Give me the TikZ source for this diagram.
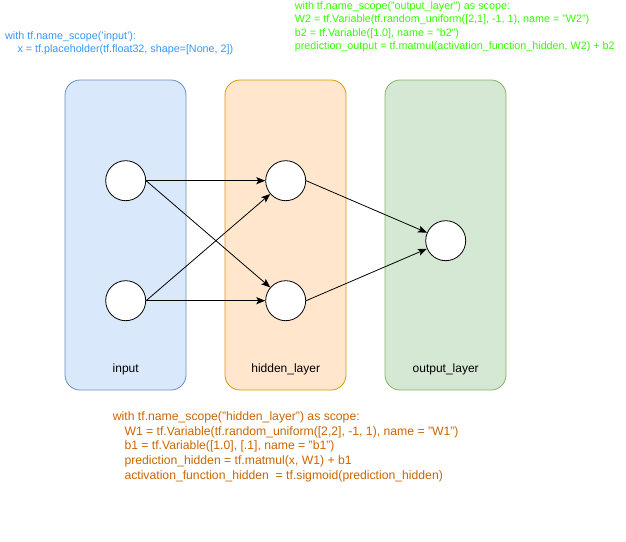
\documentclass[tikz,border=0pt]{standalone}
\usepackage{fontspec}
\setmainfont{Liberation Sans}
\usetikzlibrary{arrows.meta}
\definecolor{inFill}{HTML}{DAE8FC}
\definecolor{inLine}{HTML}{6C8EBF}
\definecolor{hidFill}{HTML}{FFE6CC}
\definecolor{hidLine}{HTML}{D79B00}
\definecolor{outFill}{HTML}{D5E8D4}
\definecolor{outLine}{HTML}{82B366}
\definecolor{codeBlue}{HTML}{3399FF}
\definecolor{codeGreen}{HTML}{33FF00}
\definecolor{codeOrange}{HTML}{CC6600}
\tikzset{
  layerbox/.style={rounded corners=15pt, line width=0.8pt},
  neuron/.style={circle, draw=black, fill=white, line width=0.8pt, minimum size=40pt, inner sep=0pt},
  layerlabel/.style={anchor=base, font=\fontsize{12}{14}\selectfont, inner sep=0pt},
  codeline/.style={anchor=base west, inner sep=0pt},
  link/.style={line width=0.8pt, -{Stealth[length=9pt,width=7pt,inset=2pt]}}
}
\begin{document}
\begin{tikzpicture}[x=1pt,y=-1pt]
\useasboundingbox[fill=white] (0,0) rectangle (626,541);

% layer containers
\filldraw[layerbox, fill=inFill, draw=inLine]   (65,80) rectangle (186,390);
\filldraw[layerbox, fill=hidFill, draw=hidLine] (225,80) rectangle (346,390);
\filldraw[layerbox, fill=outFill, draw=outLine] (385,80) rectangle (506,390);

\node[layerlabel] (lin)  at (125.7,372.5) {input};
\node[layerlabel] (lhid) at (285.7,372.5) {hidden\_layer};
\node[layerlabel] (lout) at (445.7,372.5) {output\_layer};

% neurons
\node[neuron] (i1) at (125.7,180.7) {};
\node[neuron] (i2) at (125.7,300.7) {};
\node[neuron] (h1) at (285.7,180.7) {};
\node[neuron] (h2) at (285.7,300.7) {};
\node[neuron] (o1) at (445.7,240.7) {};

% connections
\draw[link] (i1.east) -- (h1);
\draw[link] (i1.east) -- (h2);
\draw[link] (i2.east) -- (h1);
\draw[link] (i2.east) -- (h2);
\draw[link] (h1.east) -- (o1);
\draw[link] (h2.east) -- (o1);

% code for the input scope
\begin{scope}[every node/.style={codeline, text=codeBlue, font=\fontsize{10.75}{13}\selectfont}]
\node (ci1) at (5,39) {with tf.name\_scope('input'):};
\node (ci2) at (17.3,52.5) {x = tf.placeholder(tf.float32, shape=[None, 2])};
\end{scope}

% code for the output scope
\begin{scope}[every node/.style={codeline, text=codeGreen, font=\fontsize{10.75}{13}\selectfont}]
\node (co1) at (294.7,9.5)  {with tf.name\_scope("output\_layer") as scope:};
\node (co2) at (294.7,22.9) {W2 = tf.Variable(tf.random\_uniform([2,1], -1, 1), name = "W2")};
\node (co3) at (294.7,36.3) {b2 = tf.Variable([1.0], name = "b2")};
\node (co4) at (294.7,49.7) {prediction\_output = tf.matmul(activation\_function\_hidden, W2) + b2};
\end{scope}

% code for the hidden scope
\begin{scope}[every node/.style={codeline, text=codeOrange, font=\fontsize{12.2}{14}\selectfont}]
\node (ch1) at (112.7,420.7) {with tf.name\_scope("hidden\_layer") as scope:};
\node (ch2) at (124.3,435.3) {W1 = tf.Variable(tf.random\_uniform([2,2], -1, 1), name = "W1")};
\node (ch3) at (124.3,449.9) {b1 = tf.Variable([1.0], [.1], name = "b1")};
\node (ch4) at (124.3,464.5) {prediction\_hidden = tf.matmul(x, W1) + b1};
\node (ch5) at (124.3,479.1) {activation\_function\_hidden \ = tf.sigmoid(prediction\_hidden)};
\end{scope}
\end{tikzpicture}
\end{document}
